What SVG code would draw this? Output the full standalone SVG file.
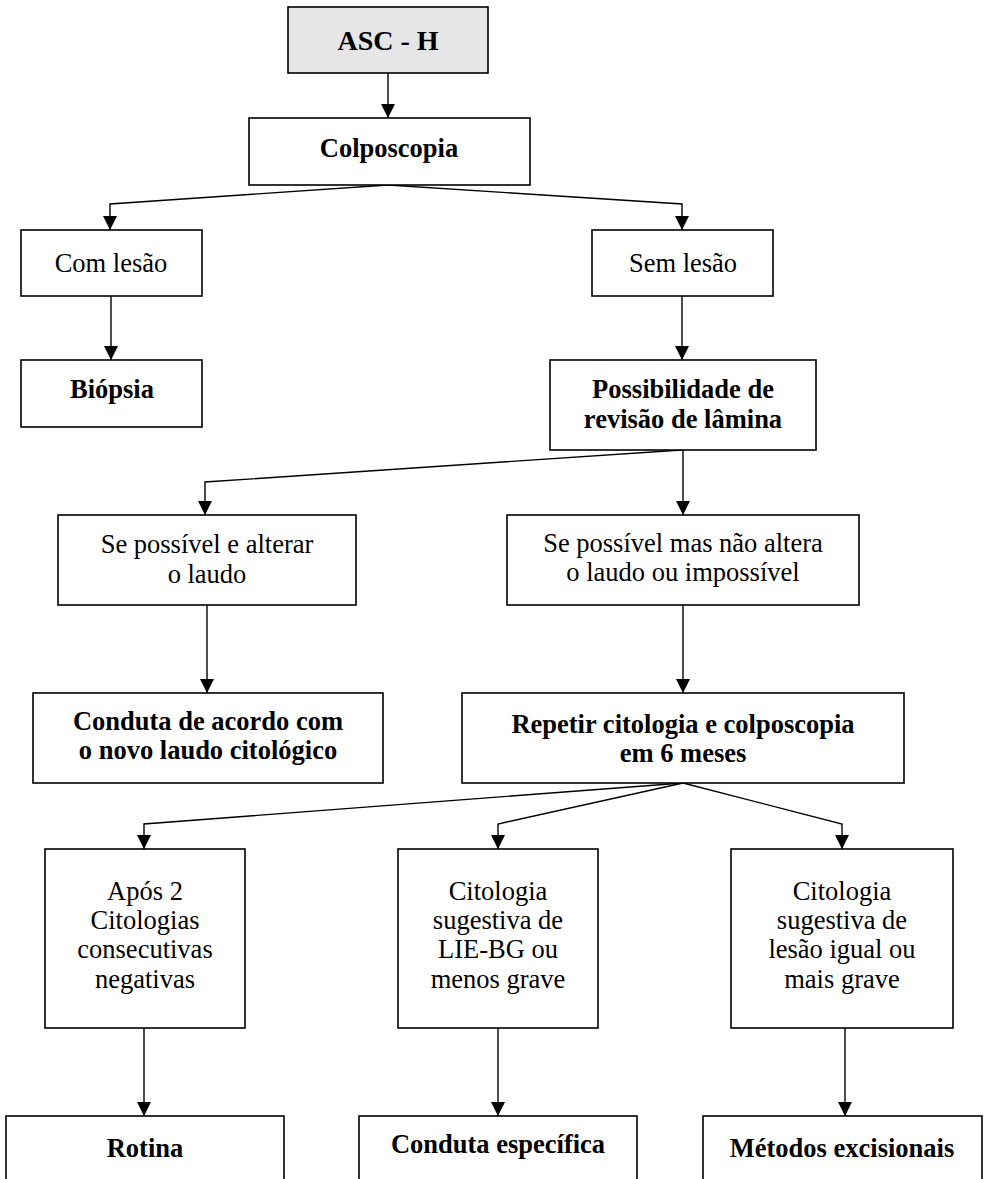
<svg xmlns="http://www.w3.org/2000/svg" width="984" height="1179" viewBox="0 0 984 1179">
  <style>
    .box { fill: #ffffff; stroke: #000000; stroke-width: 1.6; }
    .start { fill: #e6e6e6; }
    .t { font-family: "Times New Roman", "Liberation Serif", Times, serif; font-size: 26.5px; font-weight: normal; font-style: normal; fill: #000000; text-anchor: middle; }
    .b { font-weight: bold; }
    .edge { fill: none; stroke: #000000; stroke-width: 1.4; marker-end: url(#arrow); }
  </style>
  <defs>
    <marker id="arrow" markerUnits="userSpaceOnUse" markerWidth="14" markerHeight="14" refX="14" refY="7" orient="auto">
      <path d="M0,0 L14,7 L0,14 Z" fill="#000000"/>
    </marker>
  </defs>
  <rect width="984" height="1179" fill="#ffffff"/>

  <!-- connectors -->
  <g id="connectors">
    <path class="edge" d="M388,73 L388,118"/>
    <path class="edge" d="M388,185 L110,204 L110,230"/>
    <path class="edge" d="M388,185 L682,204 L682,230"/>
    <path class="edge" d="M111,296 L111,360"/>
    <path class="edge" d="M682,296 L682,360"/>
    <path class="edge" d="M682,450 L205,482 L205,515"/>
    <path class="edge" d="M683,450 L683,515"/>
    <path class="edge" d="M207,605 L207,693"/>
    <path class="edge" d="M683,605 L683,693"/>
    <path class="edge" d="M683,783 L144,824 L144,849"/>
    <path class="edge" d="M683,783 L498,824 L498,849"/>
    <path class="edge" d="M683,783 L842,824 L842,849"/>
    <path class="edge" d="M144,1028 L144,1116"/>
    <path class="edge" d="M498,1028 L498,1116"/>
    <path class="edge" d="M845,1028 L845,1116"/>
  </g>

  <g id="asc-h">
    <rect class="box start" x="288" y="7" width="200" height="66"/>
    <text class="t b" x="388" y="50" style="font-size:28px">ASC - H</text>
  </g>

  <g id="colposcopia">
    <rect class="box" x="249" y="118" width="281" height="67"/>
    <text class="t b" x="389" y="157">Colposcopia</text>
  </g>

  <g id="com-lesao">
    <rect class="box" x="21" y="230" width="181" height="66"/>
    <text class="t" x="111" y="272">Com lesão</text>
  </g>

  <g id="sem-lesao">
    <rect class="box" x="592" y="230" width="181" height="66"/>
    <text class="t" x="683" y="272">Sem lesão</text>
  </g>

  <g id="biopsia">
    <rect class="box" x="21" y="360" width="181" height="67"/>
    <text class="t b" x="112" y="398">Biópsia</text>
  </g>

  <g id="revisao">
    <rect class="box" x="550" y="360" width="266" height="90"/>
    <text class="t b" x="683" y="398">Possibilidade de</text>
    <text class="t b" x="683" y="428">revisão de lâmina</text>
  </g>

  <g id="altera">
    <rect class="box" x="58" y="515" width="298" height="90"/>
    <text class="t" x="207" y="553">Se possível e alterar</text>
    <text class="t" x="207" y="583">o laudo</text>
  </g>

  <g id="nao-altera">
    <rect class="box" x="507" y="515" width="352" height="90"/>
    <text class="t" x="683" y="552">Se possível mas não altera</text>
    <text class="t" x="683" y="581">o laudo ou impossível</text>
  </g>

  <g id="novo-laudo">
    <rect class="box" x="33" y="693" width="350" height="90"/>
    <text class="t b" x="208" y="730">Conduta de acordo com</text>
    <text class="t b" x="208" y="759">o novo laudo citológico</text>
  </g>

  <g id="repetir">
    <rect class="box" x="462" y="693" width="442" height="90"/>
    <text class="t b" x="683" y="733">Repetir citologia e colposcopia</text>
    <text class="t b" x="683" y="762">em 6 meses</text>
  </g>

  <g id="negativas">
    <rect class="box" x="45" y="849" width="200" height="179"/>
    <text class="t" x="145" y="900">Após 2</text>
    <text class="t" x="145" y="929">Citologias</text>
    <text class="t" x="145" y="958">consecutivas</text>
    <text class="t" x="145" y="988">negativas</text>
  </g>

  <g id="lie-bg">
    <rect class="box" x="398" y="849" width="200" height="179"/>
    <text class="t" x="498" y="900">Citologia</text>
    <text class="t" x="498" y="929">sugestiva de</text>
    <text class="t" x="498" y="958">LIE-BG ou</text>
    <text class="t" x="498" y="988">menos grave</text>
  </g>

  <g id="mais-grave">
    <rect class="box" x="731" y="849" width="222" height="179"/>
    <text class="t" x="842" y="900">Citologia</text>
    <text class="t" x="842" y="929">sugestiva de</text>
    <text class="t" x="842" y="958">lesão igual ou</text>
    <text class="t" x="842" y="988">mais grave</text>
  </g>

  <g id="rotina">
    <rect class="box" x="6" y="1116" width="278" height="80"/>
    <text class="t b" x="145" y="1157">Rotina</text>
  </g>

  <g id="conduta-especifica">
    <rect class="box" x="359" y="1116" width="278" height="80"/>
    <text class="t b" x="498" y="1153">Conduta específica</text>
  </g>

  <g id="excisionais">
    <rect class="box" x="703" y="1116" width="279" height="80"/>
    <text class="t b" x="842" y="1157">Métodos excisionais</text>
  </g>
</svg>
